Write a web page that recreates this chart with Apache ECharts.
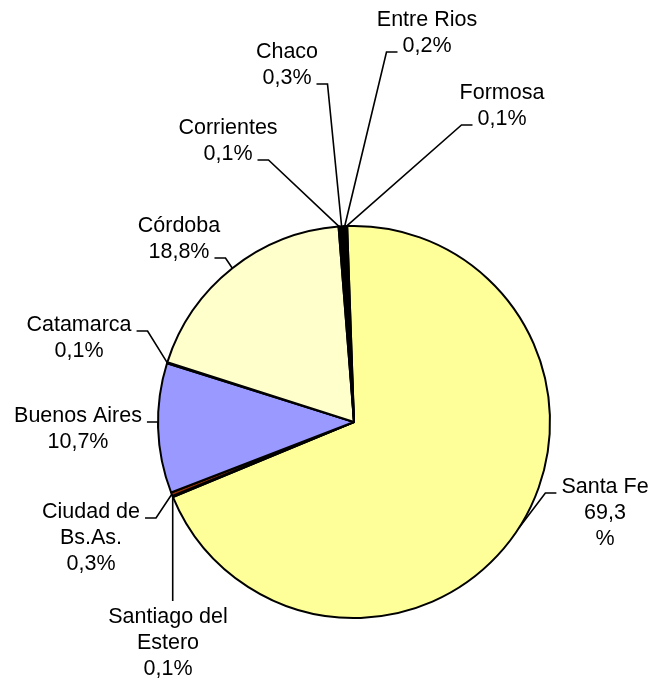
<!DOCTYPE html>
<html><head><meta charset="utf-8">
<script src="https://cdn.jsdelivr.net/npm/echarts@6/dist/echarts.min.js"></script>
<style>html,body{margin:0;padding:0;background:#fff}#c{width:659px;height:681px}</style>
</head><body><div id="c"></div>
<script>
// ---- data ----
const categories = ['Santa Fe','Santiago del Estero','Ciudad de Bs.As.','Buenos Aires','Catamarca','Córdoba','Corrientes','Chaco','Entre Rios','Formosa'];
const values = [69.3, 0.1, 0.3, 10.7, 0.1, 18.8, 0.1, 0.3, 0.2, 0.1];

// ---- styles / layout ----
const colors = ['#FFFF99','#000000','#993300','#9999FF','#000000','#FFFFCC','#000000','#000000','#000000','#000000'];
const FONT = 'Liberation Sans';
const FS = 21.5, LH = 26, GAP = 5, LEN2 = 11;
const nameLines = {
  'Ciudad de Bs.As.': ['Ciudad de', 'Bs.As.'],
  'Santiago del Estero': ['Santiago del', 'Estero']
};
const splitPercent = { 'Santa Fe': true };
// label block centre, side where leader line attaches, line index used for attachment
const labelPos = {
  'Santa Fe':            { x: 605, y: 513, side: 'left',  line: 0 },
  'Santiago del Estero': { x: 168, y: 643, side: 'top',   line: 0 },
  'Ciudad de Bs.As.':    { x: 91,  y: 538, side: 'right', line: 0 },
  'Buenos Aires':        { x: 78,  y: 429, side: 'right', line: 0 },
  'Catamarca':           { x: 79,  y: 338, side: 'right', line: 0 },
  'Córdoba':             { x: 179, y: 239, side: 'right', line: 1 },
  'Corrientes':          { x: 228, y: 141, side: 'right', line: 1 },
  'Chaco':               { x: 287, y: 65,  side: 'right', line: 1 },
  'Entre Rios':          { x: 427, y: 33,  side: 'left',  line: 1 },
  'Formosa':             { x: 502, y: 106, side: 'left',  line: 1 }
};

function labelLines(name, v) {
  const pct = v.toFixed(1).replace('.', ',');
  const base = nameLines[name] || [name];
  return splitPercent[name] ? base.concat([pct, '%']) : base.concat([pct + '%']);
}
const ctx = document.createElement('canvas').getContext('2d');
ctx.font = FS + 'px "' + FONT + '"';
function tw(s) { return ctx.measureText(s).width; }

const chart = echarts.init(document.getElementById('c'), null, { renderer: 'canvas' });
const CX = 354, CY = 422, R = 196, START = 92;

chart.setOption({
  animation: false,
  backgroundColor: '#fff',
  series: [{
    type: 'pie',
    center: [CX, CY],
    radius: R,
    startAngle: START,
    clockwise: true,
    avoidLabelOverlap: false,
    emphasis: { disabled: true, scale: false },
    itemStyle: { borderColor: '#000', borderWidth: 2 },
    label: {
      show: true,
      position: 'outside',
      overflow: 'none',
      color: '#000',
      fontFamily: FONT,
      fontSize: FS,
      lineHeight: LH,
      align: 'center',
      formatter: p => labelLines(p.name, p.value).join('\n')
    },
    labelLine: { show: true, length: 10, length2: 10, lineStyle: { color: '#000', width: 1.6 } },
    labelLayout: function (p) {
      const name = categories[p.dataIndex];
      const cfg = labelPos[name];
      const lines = labelLines(name, values[p.dataIndex]);
      const top = cfg.y - lines.length * LH / 2;
      let anchor = p.labelLinePoints && p.labelLinePoints[0];
      if (!anchor) {
        const total = values.reduce((a, b) => a + b, 0);
        let acc = 0;
        for (let i = 0; i < p.dataIndex; i++) acc += values[i];
        const mid = (START - (acc + values[p.dataIndex] / 2) / total * 360) * Math.PI / 180;
        anchor = [CX + R * Math.cos(mid), CY - R * Math.sin(mid)];
      }
      let pts;
      if (cfg.side === 'top') {
        pts = [anchor, [anchor[0], top - 3]];
      } else {
        const w = tw(lines[cfg.line]);
        const ay = top + (cfg.line + 0.5) * LH + 6;
        if (cfg.side === 'right') {
          const ex = cfg.x + w / 2 + GAP;
          pts = [anchor, [ex + LEN2, ay], [ex, ay]];
        } else {
          const ex = cfg.x - w / 2 - GAP;
          pts = [anchor, [ex - LEN2, ay], [ex, ay]];
        }
      }
      return { x: cfg.x, y: cfg.y, align: 'center', verticalAlign: 'middle', labelLinePoints: pts };
    },
    data: categories.map((c, i) => ({ name: c, value: values[i], itemStyle: { color: colors[i] } }))
  }]
});
</script>
</body></html>
